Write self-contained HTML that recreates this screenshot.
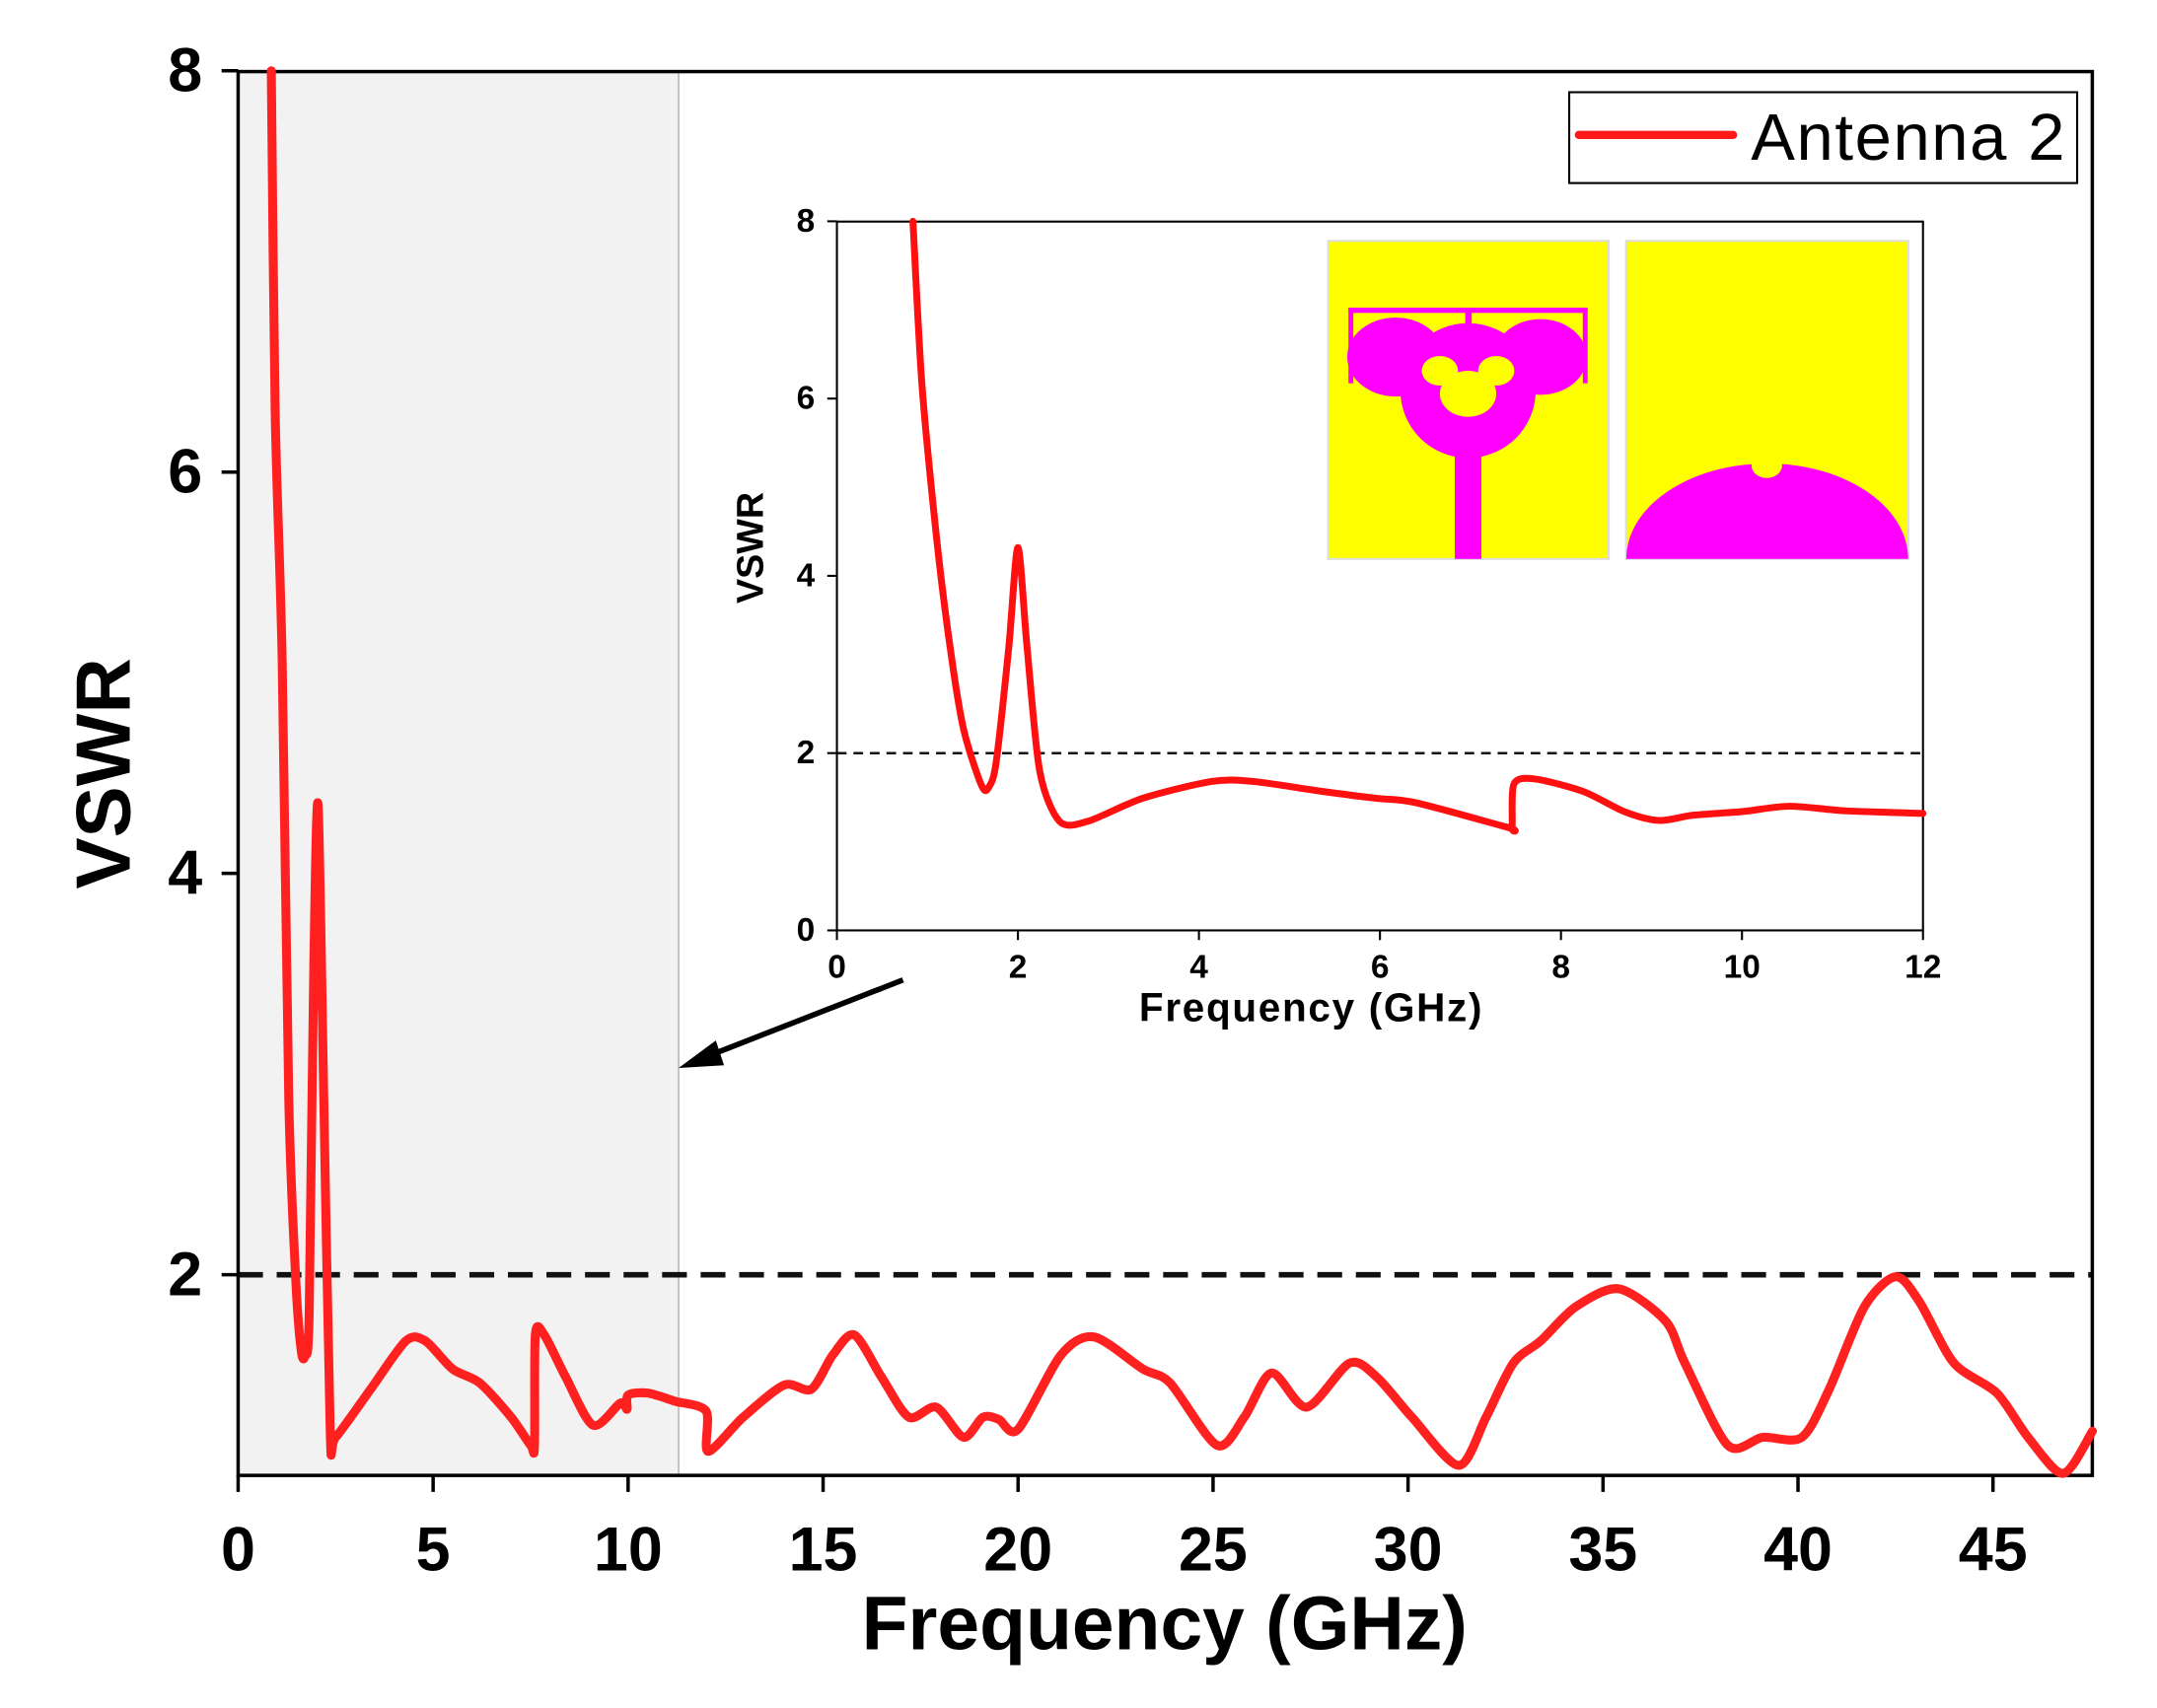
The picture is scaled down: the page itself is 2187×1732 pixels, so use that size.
<!DOCTYPE html>
<html><head><meta charset="utf-8"><style>
html,body{margin:0;padding:0;background:#fff;}
svg{display:block;}
text{font-family:"Liberation Sans",Arial,sans-serif;font-weight:bold;fill:#000;}
</style></head><body>
<svg id="s" width="2187" height="1732" viewBox="0 0 1567 1241" preserveAspectRatio="none" xmlns="http://www.w3.org/2000/svg">
<rect x="0" y="0" width="1567" height="1241" fill="#fff"/>
<rect x="173" y="52" width="320" height="1020" fill="#f2f2f2"/>
<line x1="493" y1="52" x2="493" y2="1072" stroke="#bbb" stroke-width="1.2"/>
<line x1="173" y1="926.2" x2="1520" y2="926.2" stroke="#111" stroke-width="4" stroke-dasharray="18,10"/>
<rect x="173" y="52" width="1347" height="1020" fill="none" stroke="#000" stroke-width="2.5"/>
<g id="mticks" stroke="#000" stroke-width="2.5"></g>
<g id="mlabels"></g>
<text x="75" y="562" font-size="56" text-anchor="middle" transform="rotate(-90 75 562)" dominant-baseline="central">VSWR</text>
<text x="846" y="1180" font-size="55" text-anchor="middle" dominant-baseline="central">Frequency (GHz)</text>
<path id="mcurve" fill="none" stroke="#ff2020" stroke-width="6.5" stroke-linejoin="round" stroke-linecap="round"/>
<rect x="1140" y="67" width="369" height="66" fill="#fff" stroke="#000" stroke-width="1.5"/>
<line x1="1147" y1="98" x2="1259" y2="98" stroke="#ff1a1a" stroke-width="6" stroke-linecap="round"/>
<text x="1272" y="100" font-size="48" textLength="228" style="font-weight:normal" dominant-baseline="central">Antenna 2</text>
<line x1="656" y1="712" x2="510" y2="769" stroke="#000" stroke-width="4"/>
<polygon points="493,776 520,756 526,774" fill="#000"/>
<rect x="608" y="161" width="789" height="515" fill="#fff"/>
<line x1="608" y1="547.2" x2="1397" y2="547.2" stroke="#111" stroke-width="1.8" stroke-dasharray="7,5"/>
<rect x="608" y="161" width="789" height="515" fill="none" stroke="#000" stroke-width="1.5"/>
<g id="iticks" stroke="#000" stroke-width="1.5"></g>
<g id="ilabels"></g>
<text x="545" y="398" font-size="27" text-anchor="middle" transform="rotate(-90 545 398)" dominant-baseline="central">VSWR</text>
<text x="952" y="732" font-size="29" textLength="249" text-anchor="middle" dominant-baseline="central">Frequency (GHz)</text>
<path id="icurve" fill="none" stroke="#ff1010" stroke-width="5" stroke-linejoin="round" stroke-linecap="round"/>
<g transform="translate(965,175) scale(0.2925,0.239) translate(-18,-45)">
<rect x="18" y="45" width="696" height="967" fill="#ffff00" stroke="#ddd" stroke-width="6"/>
<rect x="68" y="248" width="594" height="16" fill="#ff00ff"/>
<rect x="68" y="248" width="12" height="230" fill="#ff00ff"/>
<rect x="650" y="248" width="12" height="230" fill="#ff00ff"/>
<rect x="358" y="248" width="16" height="55" fill="#ff00ff"/>
<circle cx="185" cy="398" r="120" fill="#ff00ff"/>
<circle cx="545" cy="398" r="115" fill="#ff00ff"/>
<ellipse cx="365" cy="500" rx="168" ry="205" fill="#ff00ff"/>
<rect x="332" y="690" width="66" height="322" fill="#ff00ff"/>
<circle cx="365" cy="510" r="70" fill="#ffff00"/>
<circle cx="295" cy="440" r="45" fill="#ffff00"/>
<circle cx="435" cy="440" r="45" fill="#ffff00"/>
</g>
<g transform="translate(965,175) scale(0.2925,0.239) translate(-18,-45)">
<rect x="758" y="45" width="700" height="967" fill="#ffff00" stroke="#ddd" stroke-width="6"/>
<path d="M758,1012 A350,290 0 0 1 1458,1012 Z" fill="#ff00ff"/>
<circle cx="1107" cy="728" r="38" fill="#ffff00"/>
</g>
</svg>
<script>
var NS="http://www.w3.org/2000/svg";
function el(p,t,a,txt){var e=document.createElementNS(NS,t);for(var k in a)e.setAttribute(k,a[k]);if(txt!==undefined)e.textContent=txt;document.getElementById(p).appendChild(e);return e;}
var MX=function(f){return 173+28.33*f;},MY=function(v){return 1072-145.8*(v-1);};
var IX=function(f){return 608+65.75*f;},IY=function(v){return 676-64.4*v;};
for(var f=0;f<=45;f+=5){el('mticks','line',{x1:MX(f),y1:1072,x2:MX(f),y2:1084});
el('mlabels','text',{x:MX(f),y:1126,'font-size':45,'text-anchor':'middle','dominant-baseline':'central'},String(f));}
[2,4,6,8].forEach(function(v){el('mticks','line',{x1:161,y1:MY(v),x2:173,y2:MY(v)});
el('mlabels','text',{x:147,y:MY(v),'font-size':45,'text-anchor':'end','dominant-baseline':'central'},String(v));});
for(var f=0;f<=12;f+=2){el('iticks','line',{x1:IX(f),y1:676,x2:IX(f),y2:683});
el('ilabels','text',{x:IX(f),y:703,'font-size':24,'text-anchor':'middle','dominant-baseline':'central'},String(f));}
[0,2,4,6,8].forEach(function(v){el('iticks','line',{x1:601,y1:IY(v),x2:608,y2:IY(v)});
el('ilabels','text',{x:592,y:IY(v),'font-size':24,'text-anchor':'end','dominant-baseline':'central'},String(v));});
function smooth(pts){var d='M'+pts[0][0].toFixed(1)+','+pts[0][1].toFixed(1);
for(var i=0;i<pts.length-1;i++){var p0=pts[i-1]||pts[i],p1=pts[i],p2=pts[i+1],p3=pts[i+2]||p2;var t=0.14;
var c1=[p1[0]+(p2[0]-p0[0])*t,p1[1]+(p2[1]-p0[1])*t],c2=[p2[0]-(p3[0]-p1[0])*t,p2[1]-(p3[1]-p1[1])*t];
d+='C'+c1[0].toFixed(1)+','+c1[1].toFixed(1)+' '+c2[0].toFixed(1)+','+c2[1].toFixed(1)+' '+p2[0].toFixed(1)+','+p2[1].toFixed(1);}return d;}
var m=[[0.85,8],[0.95,6.3],[1.13,5.06],[1.3,2.87],[1.48,1.97],[1.62,1.62],[1.72,1.6],[1.82,1.8],[1.94,3.55],[2.05,4.34],[2.2,2.85],[2.36,1.22],[2.5,1.19],[3.4,1.43],[4.3,1.67],[4.8,1.67],[5.5,1.53],[6.2,1.46],[7,1.29],[7.5,1.15],[7.6,1.15],[7.62,1.70],[7.85,1.70],[8.4,1.49],[9.1,1.25],[9.8,1.36],[9.97,1.33],[10.0,1.4],[10.5,1.41],[11.2,1.37],[12,1.32],[12.05,1.12],[12.95,1.29],[14,1.45],[14.7,1.43],[15.25,1.6],[15.8,1.70],[16.5,1.49],[17.2,1.29],[17.9,1.34],[18.6,1.19],[19.1,1.29],[19.5,1.28],[20,1.23],[21.1,1.60],[21.95,1.69],[23.2,1.53],[23.9,1.46],[25.1,1.15],[25.8,1.29],[26.5,1.51],[27.4,1.34],[28.5,1.56],[29.2,1.49],[30.1,1.29],[31.3,1.05],[32,1.29],[32.7,1.56],[33.4,1.67],[34.3,1.84],[35.4,1.93],[36.6,1.77],[37.1,1.56],[38.2,1.15],[39.1,1.19],[40.1,1.19],[40.8,1.43],[41.7,1.84],[42.5,1.99],[43.1,1.87],[44,1.56],[45.1,1.41],[45.9,1.19],[46.8,1.01],[47.55,1.22]];
document.getElementById('mcurve').setAttribute('d',smooth(m.map(function(p){return [MX(p[0]),MY(p[1])];})));
var n=[[0.84,8],[0.94,6.15],[1.1,4.44],[1.25,3.2],[1.4,2.27],[1.6,1.63],[1.68,1.62],[1.76,1.9],[1.9,3.2],[2.0,4.32],[2.1,3.2],[2.24,1.8],[2.46,1.23],[2.77,1.23],[3.38,1.49],[4.14,1.68],[4.6,1.68],[5.35,1.57],[5.96,1.49],[6.4,1.44],[7.42,1.16],[7.46,1.16],[7.48,1.65],[7.7,1.71],[8.24,1.57],[8.7,1.34],[9.08,1.24],[9.46,1.30],[10,1.34],[10.52,1.40],[11.13,1.35],[12,1.32]];
document.getElementById('icurve').setAttribute('d',smooth(n.map(function(p){return [IX(p[0]),IY(p[1])];})));
</script>
</body></html>
